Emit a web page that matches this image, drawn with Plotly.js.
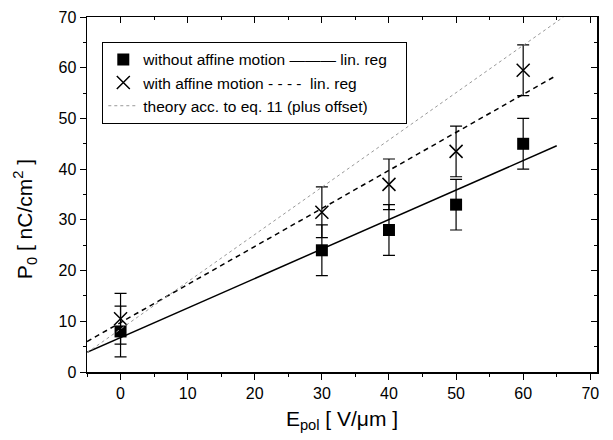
<!DOCTYPE html>
<html>
<head>
<meta charset="utf-8">
<script src="https://cdn.plot.ly/plotly-3.0.1.min.js"></script>
<style>html,body{margin:0;padding:0;background:#fff;}#chart{width:613px;height:440px;}</style>
</head>
<body>
<div id="chart"></div>
<script>
// Measurements
const fieldX = [0, 30, 40, 50, 60];
const withoutAffine = [8.0, 24.0, 28.0, 33.0, 45.0];
const withoutAffineErr = [5, 5, 5, 5, 5];
const withAffine = [10.5, 31.5, 37.0, 43.5, 59.5];
const withAffineErr = [5, 5, 5, 5, 5];
// Regression / theory lines (endpoints)
const regX = [-5, 65];
const regWithout = [3.9, 44.6];
const regWith = [6.0, 58.5];
const theoryX = [-5, 66];
const theoryY = [3.8, 70];
// Labels
const legendLabels = [
  "without affine motion \u2014\u2014\u2014 lin. reg\u00a0\u00a0\u00a0",
  "with affine motion - - - -  lin. reg",
  "theory acc. to eq. 11 (plus offset)"
];
const xTicks = [0, 10, 20, 30, 40, 50, 60, 70];
const yTicks = [0, 10, 20, 30, 40, 50, 60, 70];
const xTitle = 'E<sub>pol</sub> [ V/\u03bcm ]';
const yTitle = 'P<sub>0</sub> [ nC/cm<sup>2</sup> ]';

const font = "Arial, 'Liberation Sans', Helvetica, sans-serif";

const traces = [
  {x: regX, y: regWithout, mode: 'lines', line: {color: '#000', width: 1.5}, showlegend: false, hoverinfo: 'skip'},
  {x: regX, y: regWith, mode: 'lines', line: {color: '#000', width: 1.5, dash: '5px,4px'}, showlegend: false, hoverinfo: 'skip'},
  {x: fieldX, y: withoutAffine, mode: 'markers', name: legendLabels[0],
   marker: {symbol: 'square', size: 12, color: '#000'},
   error_y: {type: 'data', array: withoutAffineErr, visible: true, color: '#000', thickness: 1.2, width: 6}},
  {x: fieldX, y: withAffine, mode: 'markers', name: legendLabels[1],
   marker: {symbol: 'x-thin-open', size: 13, color: '#000', line: {color: '#000', width: 1.5}},
   error_y: {type: 'data', array: withAffineErr, visible: true, color: '#000', thickness: 1.2, width: 6}},
  {x: theoryX, y: theoryY, mode: 'lines', name: legendLabels[2],
   line: {color: '#999', width: 1, dash: 'dot'}, hoverinfo: 'skip'},
  {x: [0], y: [0], xaxis: 'x2', yaxis: 'y2', mode: 'markers', marker: {opacity: 0}, showlegend: false, hoverinfo: 'skip'}
];

const layout = {
  width: 613, height: 440,
  margin: {l: 87, r: 16, t: 17, b: 68},
  paper_bgcolor: '#fff', plot_bgcolor: '#fff',
  font: {family: font, color: '#000', size: 16},
  showlegend: true,
  legend: {
    x: 0.03, y: 0.93, xanchor: 'left', yanchor: 'top',
    bgcolor: '#fff', bordercolor: '#000', borderwidth: 1,
    font: {family: font, size: 15.5, color: '#000'},
    tracegroupgap: 0, itemwidth: 30
  },
  xaxis: {
    range: [-5, 71], tickvals: xTicks, ticktext: xTicks.map(String),
    ticks: 'outside', ticklen: 6, tickwidth: 1, tickcolor: '#000',
    minor: {dtick: 5, tick0: 0, ticks: 'outside', ticklen: 3, tickcolor: '#000'},
    showline: true, linecolor: '#000', linewidth: 1.5, mirror: true,
    showgrid: false, zeroline: false,
    tickfont: {size: 16},
    title: {text: xTitle, font: {size: 21}, standoff: 10}
  },
  yaxis: {
    range: [0, 70], tickvals: yTicks, ticktext: yTicks.map(String),
    ticks: 'outside', ticklen: 6, tickwidth: 1, tickcolor: '#000',
    minor: {dtick: 5, tick0: 0, ticks: 'outside', ticklen: 3, tickcolor: '#000'},
    showline: true, linecolor: '#000', linewidth: 1.5, mirror: true,
    showgrid: false, zeroline: false,
    tickfont: {size: 16}
  },
  xaxis2: {
    overlaying: 'x', side: 'top', matches: 'x', range: [-5, 71],
    tickvals: xTicks, showticklabels: false, ticks: 'inside', ticklen: 6, tickcolor: '#000',
    minor: {dtick: 5, tick0: 0, ticks: 'inside', ticklen: 3, tickcolor: '#000'},
    showgrid: false, zeroline: false, showline: false
  },
  yaxis2: {
    overlaying: 'y', side: 'right', range: [0, 70],
    tickvals: yTicks, showticklabels: false, ticks: 'inside', ticklen: 6, tickcolor: '#000',
    minor: {dtick: 5, tick0: 0, ticks: 'inside', ticklen: 3, tickcolor: '#000'},
    showgrid: false, zeroline: false, showline: false
  },
  annotations: [{
    text: yTitle, xref: 'paper', yref: 'paper', x: -0.122, y: 0.43,
    xanchor: 'center', yanchor: 'middle', textangle: -90, showarrow: false,
    font: {family: font, size: 21, color: '#000'}
  }]
};

Plotly.newPlot('chart', traces, layout, {displayModeBar: false, staticPlot: true});
</script>
</body>
</html>
